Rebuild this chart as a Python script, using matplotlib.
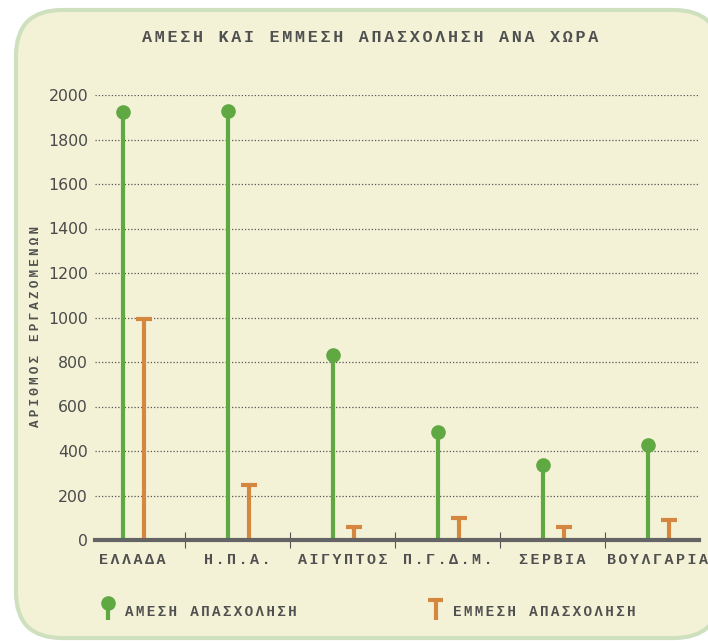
import numpy as np
import matplotlib
matplotlib.use("Agg")
import matplotlib.pyplot as plt
from matplotlib.patches import FancyBboxPatch
from matplotlib.lines import Line2D

# data
countries = ["ΕΛΛΑΔΑ", "Η.Π.Α.", "ΑΙΓΥΠΤΟΣ", "Π.Γ.Δ.Μ.", "ΣΕΡΒΙΑ", "ΒΟΥΛΓΑΡΙΑ"]
direct = [1925, 1930, 830, 485, 335, 425]
indirect = [1000, 255, 65, 105, 65, 98]
yticks = [0, 200, 400, 600, 800, 1000, 1200, 1400, 1600, 1800, 2000]

title = "ΑΜΕΣΗ ΚΑΙ ΕΜΜΕΣΗ ΑΠΑΣΧΟΛΗΣΗ ΑΝΑ ΧΩΡΑ"
ylabel = "ΑΡΙΘΜΟΣ ΕΡΓΑΖΟΜΕΝΩΝ"
leg_direct = "ΑΜΕΣΗ ΑΠΑΣΧΟΛΗΣΗ"
leg_indirect = "ΕΜΜΕΣΗ ΑΠΑΣΧΟΛΗΣΗ"

GREEN = "#5fa842"
ORANGE = "#d5873f"
TXT = "#4a4a4a"
LBL = "#505050"
MONO = ["Liberation Mono", "DejaVu Sans"]  # spacer glyphs fall back to DejaVu Sans


def spaced(s, sp="\u2006"):
    # letter-spaced text (the spacer is narrow, taken from DejaVu Sans)
    return sp.join(s)


W, H = 708, 641
fig = plt.figure(figsize=(W / 100, H / 100), dpi=100)

# background panel in pixel coords
bg = fig.add_axes([0, 0, 1, 1], zorder=0)
bg.set_xlim(0, W)
bg.set_ylim(H, 0)
bg.axis("off")
bg.add_patch(FancyBboxPatch((16, 10), 704, 628, boxstyle="round,pad=0,rounding_size=46",
                            fc="#f3f2d7", ec="#cfe0bf", lw=3))

ax = fig.add_axes([95 / W, 1 - 540 / H, 604 / W, 445 / H], zorder=1)
ax.patch.set_alpha(0)

x = np.arange(len(countries))
ax.vlines(x - 0.086, 0, direct, color=GREEN, lw=3, zorder=2)
ax.plot(x - 0.086, direct, "o", color=GREEN, ms=9.5, clip_on=False, zorder=3)
ax.vlines(x + 0.105, 0, indirect, color=ORANGE, lw=3, zorder=2)
ax.plot(x + 0.105, np.array(indirect) - 8, "_", color=ORANGE, ms=11.5, mew=3, zorder=3)

ax.set_xlim(-0.357, 5.395)
ax.set_ylim(0, 2000)
ax.set_yticks(yticks)
ax.set_yticklabels([str(v) for v in yticks], fontsize=11.3, color=TXT)
ax.tick_params(axis="y", length=0, pad=5)
for v in yticks[1:]:
    ax.axhline(v, color="#555555", lw=0.9, ls=(0, (1, 1.6)), zorder=1)

ax.set_xticks(x)
ax.set_xticklabels([spaced(c) for c in countries], family=MONO, fontsize=10.8,
                   weight="bold", color=LBL)
ax.set_xticks(x[:-1] + 0.5, minor=True)
ax.tick_params(axis="x", which="major", length=0, pad=9.5)
ax.tick_params(axis="x", which="minor", direction="inout", length=11, width=0.8, color="#555555")

for s in ["top", "right", "left"]:
    ax.spines[s].set_visible(False)
ax.spines["bottom"].set_color("#646464")
ax.spines["bottom"].set_linewidth(3)
ax.spines["bottom"].set_zorder(2.5)

# title and y label
bg.text(370, 37, spaced(title), family=MONO, fontsize=12.1, weight="bold", color=LBL,
        ha="center", va="center")
bg.text(36, 326, spaced(ylabel, "\u2005"), family=MONO, fontsize=9.1, weight="bold", color=LBL,
        ha="center", va="center", rotation=90)

# legend
bg.add_line(Line2D([108, 108], [603, 620], color=GREEN, lw=3, solid_capstyle="butt"))
bg.plot([108], [603], "o", color=GREEN, ms=9.5)
bg.text(125, 612, spaced(leg_direct), family=MONO, fontsize=10.3, weight="bold", color=LBL,
        ha="left", va="center")
bg.add_line(Line2D([435.5, 435.5], [598, 620], color=ORANGE, lw=3, solid_capstyle="butt"))
bg.add_line(Line2D([428, 443], [599.5, 599.5], color=ORANGE, lw=3, solid_capstyle="butt"))
bg.text(453, 612, spaced(leg_indirect), family=MONO, fontsize=10.3, weight="bold", color=LBL,
        ha="left", va="center")

fig.savefig("out.png", dpi=100)
